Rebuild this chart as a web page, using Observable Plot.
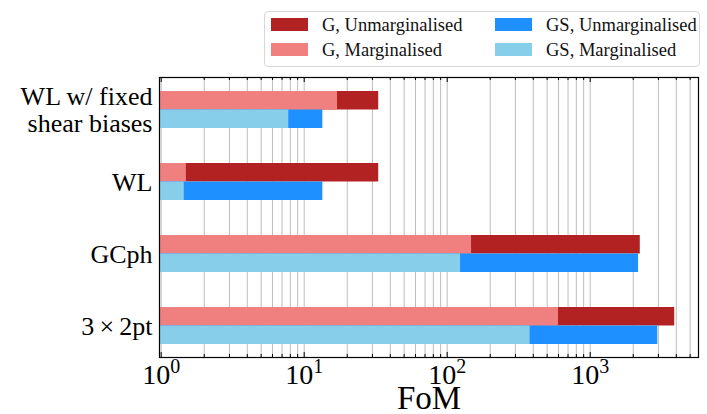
<!DOCTYPE html>
<html>
<head>
<meta charset="utf-8">
<script src="https://cdn.jsdelivr.net/npm/d3@7"></script>
<script src="https://cdn.jsdelivr.net/npm/@observablehq/plot@0.6"></script>
<style>
  body { margin: 0; background: #fff; }
  #wrap { position: relative; width: 707px; height: 414px; font-family: "Liberation Serif", "DejaVu Serif", serif; }
  #legend { position: absolute; left: 264px; top: 11px; width: 436px; height: 56px; border: 1px solid #d8d8d8; border-radius: 4px; background: #fff; box-sizing: border-box; }
  .item { position: absolute; display: flex; align-items: center; height: 20px; line-height: 20px; font-size: 18.5px; color: #111; white-space: nowrap; }
  .sw { width: 37px; height: 13px; margin-right: 14px; flex: none; }
</style>
</head>
<body>
<div id="wrap"></div>
<script>
// ---- data ----
const categories = ["WL w/ fixed\nshear biases", "WL", "GCph", "3\u2009×\u20092pt"];
const gUnmarg  = [33.2, 33.2, 2240, 3900];
const gMarg    = [17.1, 1.50, 148, 600];
const gsUnmarg = [13.5, 13.5, 2180, 2970];
const gsMarg   = [7.8, 1.45, 124, 380];
const majorTicks = [1, 10, 100, 1000];
const tickExponents = ["0", "1", "2", "3"];
const seriesNames = ["G, Unmarginalised", "G, Marginalised", "GS, Unmarginalised", "GS, Marginalised"];
const seriesColors = ["#b22222", "#f08080", "#1e90ff", "#87ceeb"];
const xLabel = "FoM";
const xDomain = [0.973, 5720];

// ---- table ----
const rows = categories.flatMap((c, i) => [
  {cat: c, group: "G", series: seriesNames[0], value: gUnmarg[i]},
  {cat: c, group: "G", series: seriesNames[1], value: gMarg[i]},
  {cat: c, group: "GS", series: seriesNames[2], value: gsUnmarg[i]},
  {cat: c, group: "GS", series: seriesNames[3], value: gsMarg[i]}
]);
const baseline = xDomain[0];
const allTicks = d3.scaleLog().domain(xDomain).ticks().filter(t => t >= xDomain[0] && t <= xDomain[1]);
const minorTicks = allTicks.filter(t => !majorTicks.includes(t));

const W = 707, H = 414, mt = 77, mb = 57, ml = 159, mr = 9;
const plotH = H - mt - mb;
const pInner = 0.493, pOuter = 0.165;
const step = plotH / (categories.length - pInner + 2 * pOuter);
const half = step * (1 - pInner) / 2;

const bar = (series, inset) => Plot.barX(rows.filter(r => r.series === series), {
  x1: () => baseline, x2: "value", y: "cat", fill: seriesColors[seriesNames.indexOf(series)], ...inset
});

const chart = Plot.plot({
  width: W, height: H,
  marginTop: mt, marginBottom: mb, marginLeft: ml, marginRight: mr,
  style: {fontFamily: "'Liberation Serif', 'DejaVu Serif', serif", background: "#fff", color: "#000"},
  x: {type: "log", domain: xDomain},
  y: {domain: categories, paddingInner: pInner, paddingOuter: pOuter},
  marks: [
    Plot.ruleX(allTicks, {stroke: "#bdbdbd", strokeWidth: 1}),
    bar(seriesNames[0], {insetBottom: half}),
    bar(seriesNames[1], {insetBottom: half}),
    bar(seriesNames[2], {insetTop: half}),
    bar(seriesNames[3], {insetTop: half}),
    Plot.ruleX(majorTicks, {stroke: "#000", insetTop: plotH - 5}),
    Plot.ruleX(majorTicks, {stroke: "#000", insetBottom: plotH - 5}),
    Plot.ruleX(minorTicks, {stroke: "#000", insetTop: plotH - 3}),
    Plot.ruleX(minorTicks, {stroke: "#000", insetBottom: plotH - 3}),
    Plot.frame({stroke: "#000", strokeWidth: 1.2}),
    Plot.axisY({tickSize: 0, tickPadding: 7, fontSize: 26, lineHeight: 1.02, label: null}),
    Plot.axisX({ticks: majorTicks, tickSize: 0, tickPadding: 7, fontSize: 28,
      tickFormat: (d) => "10^" + tickExponents[majorTicks.indexOf(d)], label: null}),
    Plot.text([xLabel], {text: d => d, frameAnchor: "bottom", dy: 51, lineAnchor: "bottom", fontSize: 33, fill: "#000"})
  ]
});

// superscripts in x tick labels
d3.select(chart).selectAll('g[aria-label="x-axis tick label"] text').each(function() {
  const t = d3.select(this);
  const s = t.text();
  const [base, exp] = s.split("^");
  t.text(null);
  t.append("tspan").text(base);
  t.append("tspan").attr("dy", "-11px").attr("font-size", "20px").text(exp);
});

const wrap = document.getElementById("wrap");
wrap.appendChild(chart);

// legend
const legend = document.createElement("div");
legend.id = "legend";
const pos = [[6, 2.5], [6, 27.5], [230, 2.5], [230, 27.5]];
seriesNames.forEach((name, i) => {
  const it = document.createElement("div");
  it.className = "item";
  it.style.left = pos[i][0] + "px";
  it.style.top = pos[i][1] + "px";
  const sw = document.createElement("div");
  sw.className = "sw";
  sw.style.background = seriesColors[i];
  it.appendChild(sw);
  const tx = document.createElement("span");
  tx.textContent = name;
  it.appendChild(tx);
  legend.appendChild(it);
});
wrap.appendChild(legend);
</script>
</body>
</html>
